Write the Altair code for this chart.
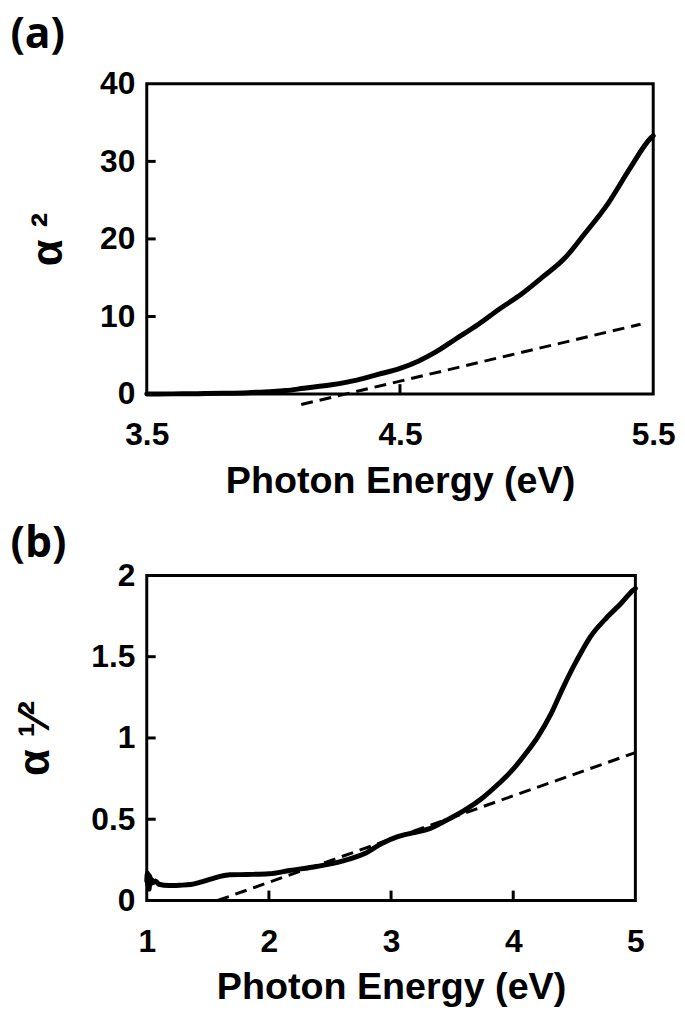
import altair as alt
import pandas as pd

# ---------------- data: panel (a) ----------------
a_energy = [3.5, 3.6, 3.7, 3.8, 3.9, 3.95, 4.0, 4.05, 4.12, 4.23, 4.33, 4.41, 4.5,
            4.57, 4.64, 4.72, 4.81, 4.89, 4.98, 5.06, 5.15, 5.23, 5.32, 5.41, 5.49, 5.5]
a_alpha2 = [0.0, 0.02, 0.05, 0.1, 0.18, 0.25, 0.32, 0.45, 0.75, 1.2, 1.8, 2.5, 3.3,
            4.2, 5.4, 7.1, 9.0, 10.9, 12.9, 15.0, 17.5, 20.7, 24.5, 29.2, 33.0, 33.3]
a_fit_energy = [4.11, 5.45]
a_fit_alpha2 = [-1.35, 9.0]
a_x_labels = [3.5, 4.5, 5.5]
a_y_labels = [0, 10, 20, 30, 40]
a_x_inner_ticks = [4.5]
a_y_inner_ticks = [10, 20, 30]

# ---------------- data: panel (b) ----------------
b_energy = [1.0, 1.005, 1.01, 1.015, 1.02, 1.025, 1.03, 1.04, 1.05, 1.07, 1.1, 1.18,
            1.27, 1.36, 1.45, 1.53, 1.6, 1.68, 1.82, 2.0, 2.17, 2.39, 2.6, 2.78, 2.92,
            3.06, 3.2, 3.31, 3.45, 3.6, 3.74, 3.88, 3.99, 4.09, 4.2, 4.31, 4.41, 4.52,
            4.63, 4.77, 4.88, 4.98, 5.0]
b_alpha_half = [0.12, 0.17, 0.09, 0.16, 0.07, 0.15, 0.1, 0.13, 0.11, 0.12, 0.1, 0.092,
                0.094, 0.098, 0.115, 0.133, 0.148, 0.158, 0.16, 0.164, 0.185, 0.209,
                0.242, 0.287, 0.349, 0.394, 0.42, 0.441, 0.492, 0.554, 0.626, 0.718,
                0.8, 0.892, 1.005, 1.149, 1.313, 1.477, 1.621, 1.744, 1.826, 1.908, 1.92]
b_fit_energy = [1.58, 5.0]
b_fit_alpha_half = [0.0, 0.91]
b_x_labels = [1, 2, 3, 4, 5]
b_y_labels = [0, 0.5, 1, 1.5, 2]
b_x_inner_ticks = [2, 3, 4]
b_y_inner_ticks = [0.5, 1, 1.5]

FONT = "Liberation Sans"


def panel(tag, xs, ys, fx, fy, xdom, ydom, xvals, yvals, xin, yin, xfmt, yfmt,
          ytitle, w, h, ytitle_pad, title_offset, title_dx):
    curve = pd.DataFrame({"x": xs, "y": ys})
    fit = pd.DataFrame({"x": fx, "y": fy})
    xsc = alt.Scale(domain=xdom, nice=False, zero=False)
    ysc = alt.Scale(domain=ydom, nice=False, zero=False)
    xaxis = alt.Axis(values=xvals, format=xfmt, title="Photon Energy (eV)",
                     labelPadding=26, titlePadding=12)
    yaxis = alt.Axis(values=yvals, format=yfmt, title=ytitle, labelPadding=12,
                     titlePadding=ytitle_pad, titleFontSize=44)
    X = alt.X("x:Q", scale=xsc, axis=xaxis)
    Y = alt.Y("y:Q", scale=ysc, axis=yaxis)
    solid = alt.Chart(curve).mark_line(
        color="black", strokeWidth=5, strokeJoin="round", strokeCap="round",
        interpolate="monotone",
    ).encode(x=X, y=Y)
    dashed = alt.Chart(fit).mark_line(
        color="black", strokeWidth=3, strokeDash=[12, 7]
    ).encode(x=X, y=Y)
    xt = alt.Chart(pd.DataFrame({"x": xin})).mark_rule(
        color="black", strokeWidth=3
    ).encode(x=X, y=alt.value(h), y2=alt.value(h - 10))
    yt = alt.Chart(pd.DataFrame({"y": yin})).mark_rule(
        color="black", strokeWidth=3
    ).encode(y=Y, x=alt.value(0), x2=alt.value(9))
    return alt.layer(solid, dashed, xt, yt).properties(
        width=w,
        height=h,
        title=alt.TitleParams(
            text=tag, anchor="start", frame="bounds", font="Open Sans",
            fontSize=43, fontWeight="bold", color="black", offset=title_offset,
            dx=title_dx,
        ),
    )


pa = panel("(a)", a_energy, a_alpha2, a_fit_energy, a_fit_alpha2,
           [3.5, 5.5], [0, 40], a_x_labels, a_y_labels,
           a_x_inner_ticks, a_y_inner_ticks, ".1f", "d",
           "α ²", 511, 313, 29, 11, -17)
pb = panel("(b)", b_energy, b_alpha_half, b_fit_energy, b_fit_alpha_half,
           [1, 5], [0, 2], b_x_labels, b_y_labels,
           b_x_inner_ticks, b_y_inner_ticks, "d", "~g",
           "α ¹⁄²", 493, 328, 34, -6, -3)

chart = alt.vconcat(pa, pb, spacing=19).properties(
    padding={"left": 0, "top": 0, "right": 0, "bottom": 0},
    background="white",
).configure_view(
    stroke="black", strokeWidth=3
).configure_axis(
    domain=False, ticks=False, tickSize=0, grid=False,
    labelFont=FONT, labelFontSize=32, labelFontWeight="bold", labelColor="black",
    titleFont=FONT, titleFontSize=38, titleFontWeight="bold", titleColor="black",
    labelFlush=False, labelOverlap=False,
)

chart.save("out.html", embed_options={"renderer": "svg", "actions": False})
